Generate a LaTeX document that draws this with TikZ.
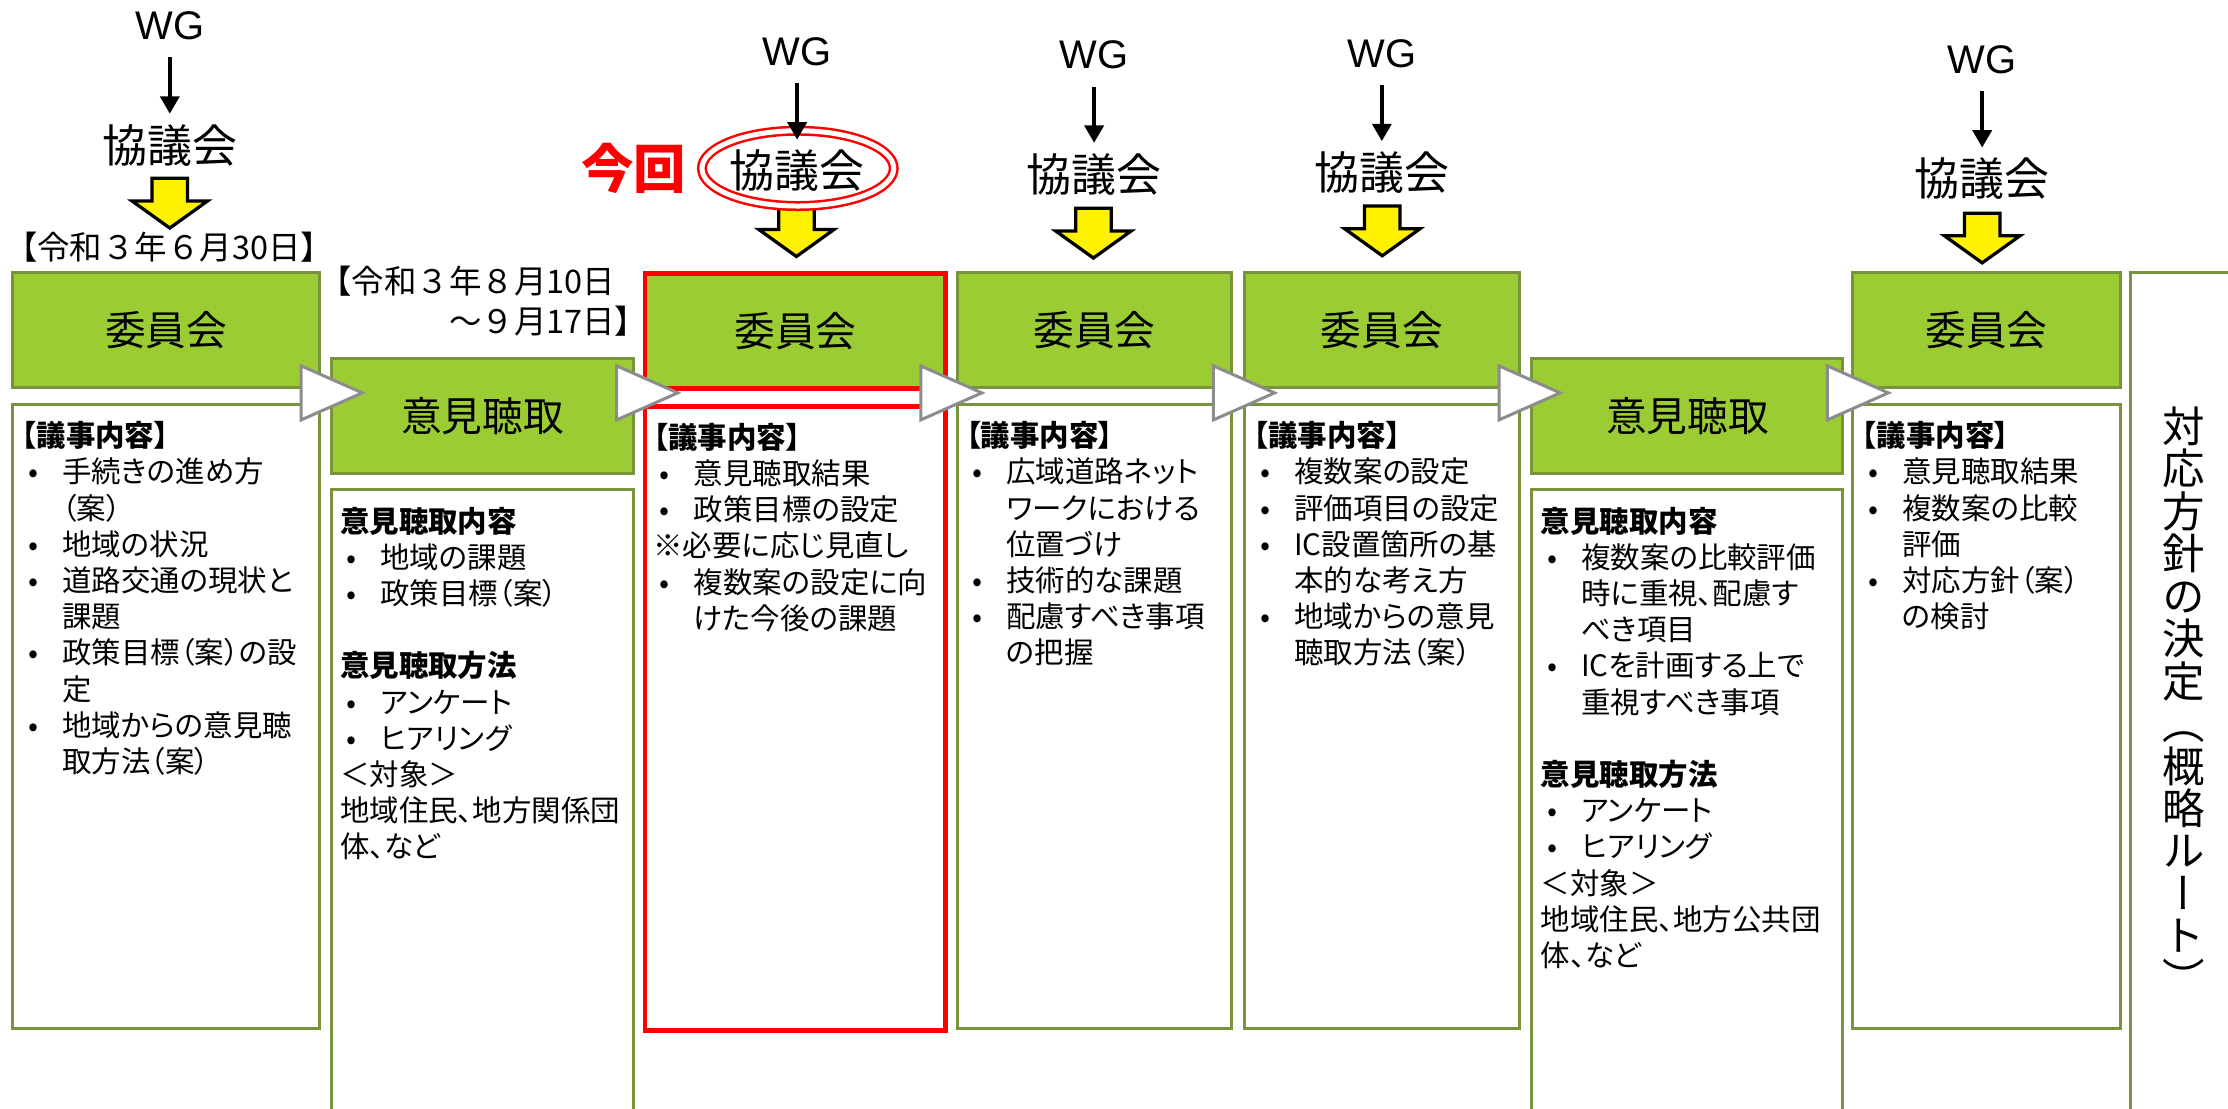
\documentclass[tikz,border=0pt]{standalone}
\usepackage{fontspec}
\setmainfont[RawFeature=+palt]{Noto Sans CJK JP}
\newfontfamily\plainjp{Noto Sans CJK JP}
\newfontfamily\vertjp[RawFeature=+vert]{Noto Sans CJK JP}
\newfontfamily\wgfont{Liberation Sans}
\usetikzlibrary{shapes.geometric, arrows.meta, positioning}
\definecolor{grnfill}{RGB}{155,204,52}
\definecolor{grnline}{RGB}{119,147,60}
\definecolor{trigray}{RGB}{140,140,140}
\newcommand{\itm}[1]{\par\noindent\makebox[16.2pt][l]{\hspace{2.5pt}•}#1}
\newcommand{\cont}[1]{\par\noindent\hspace*{16.2pt}#1}
\newcommand{\hd}[1]{\par\noindent{\bfseries #1}}
\newcommand{\pl}[1]{\par\noindent #1}
\newcommand{\gap}{\par\vspace{14.5pt}}
\tikzstyle{head} = [rectangle, minimum height=1.62cm, inner sep=0pt, draw=grnline, line width=1.2pt, fill=grnfill, font=\fontsize{16.3}{19}\selectfont]
\tikzstyle{headnow} = [head, draw=red, line width=1.8pt]
\tikzstyle{frame} = [rectangle, inner sep=0pt, draw=grnline, line width=1.2pt, fill=white]
\tikzstyle{framenow} = [frame, draw=red, line width=1.8pt]
\tikzstyle{body} = [text width=4.2cm, inner sep=0pt, align=left, font=\fontsize{11.8}{14.5}\selectfont]
\tikzstyle{wg} = [inner sep=0pt, font=\wgfont\fontsize{16}{19}\selectfont]
\tikzstyle{kyo} = [inner sep=0pt, font=\fontsize{18}{21}\selectfont]
\tikzstyle{date} = [inner sep=0pt, align=right, font=\plainjp\fontsize{13}{16.2}\selectfont]
\tikzstyle{ring} = [ellipse, draw=red, line width=1pt, double=white, double distance=2pt, minimum width=2.7cm, minimum height=1.06cm, inner sep=0pt]
\tikzstyle{nowlabel} = [inner sep=0pt, text=red, font=\bfseries\fontsize{21}{25}\selectfont]
\tikzstyle{vtext} = [inner sep=0pt, align=center, font={\vertjp\fontsize{17}{17}\selectfont}]
\tikzstyle{arrow} = [line width=1.8pt, -{Triangle[length=7pt,width=7.5pt]}, shorten <=6.8pt, shorten >=4pt]
\tikzset{
  yarrow/.pic={\filldraw[fill=yellow, draw=black, line width=1.3pt] (-12.5,0) -- (12.5,0) -- (12.5,16) -- (26.5,16) -- (0,35) -- (-26.5,16) -- (-12.5,16) -- cycle;},
  chevron/.pic={\filldraw[fill=white, draw=trigray, line width=1.2pt] (0,-19) -- (43,0) -- (0,19) -- cycle;}
}
\begin{document}
\begin{tikzpicture}[x=0.02cm, y=-0.02cm, node distance=1.68cm]
\useasboundingbox (0,0) rectangle (1568,780);
\clip (0,0) rectangle (1568,780);

\node (com1) [head, minimum width=4.32cm, anchor=north west] at (8,191) {委員会};
\node (hear1) [head, minimum width=4.26cm, anchor=north west] at (232,251) {意見聴取};
\node (com2) [headnow, minimum width=4.23cm, anchor=north west] at (452.5,191) {委員会};
\node (com3) [head, minimum width=3.87cm, anchor=north west] at (672.5,191) {委員会};
\node (com4) [head, minimum width=3.86cm, anchor=north west] at (875,191) {委員会};
\node (hear2) [head, minimum width=4.38cm, anchor=north west] at (1077,251) {意見聴取};
\node (com5) [head, minimum width=3.76cm, anchor=north west] at (1303,191) {委員会};
\node (policy) [frame, minimum width=2.04cm, minimum height=12.18cm, anchor=north west] at (1498,191) {};

\node (box1) [frame, minimum width=4.32cm, minimum height=8.78cm, below=0.19cm of com1] {};
\node (box2) [frame, minimum width=4.26cm, minimum height=9.16cm, below=0.19cm of hear1] {};
\node (box3) [framenow, minimum width=4.23cm, minimum height=8.78cm, below=0.19cm of com2] {};
\node (box4) [frame, minimum width=3.87cm, minimum height=8.78cm, below=0.19cm of com3] {};
\node (box5) [frame, minimum width=3.86cm, minimum height=8.78cm, below=0.19cm of com4] {};
\node (box6) [frame, minimum width=4.38cm, minimum height=9.16cm, below=0.19cm of hear2] {};
\node (box7) [frame, minimum width=3.76cm, minimum height=8.78cm, below=0.19cm of com5] {};

\node (txt1) [body, anchor=north west] at ([shift={(7,5)}]box1.north west) {\hd{【議事内容】}
\itm{手続きの進め方}\cont{（案）}
\itm{地域の状況}
\itm{道路交通の現状と}\cont{課題}
\itm{政策目標（案）の設}\cont{定}
\itm{地域からの意見聴}\cont{取方法（案）}};
\node (txt2) [body, anchor=north west] at ([shift={(7,5)}]box2.north west) {\hd{意見聴取内容}
\itm{地域の課題}
\itm{政策目標（案）}
\gap
\hd{意見聴取方法}
\itm{アンケート}
\itm{ヒアリング}
\pl{＜対象＞}
\pl{地域住民、地方関係団}\pl{体、など}};
\node (txt3) [body, anchor=north west] at ([shift={(7,5)}]box3.north west) {\hd{【議事内容】}
\itm{意見聴取結果}
\itm{政策目標の設定}
\pl{※必要に応じ見直し}
\itm{複数案の設定に向}\cont{けた今後の課題}};
\node (txt4) [body, anchor=north west] at ([shift={(7,5)}]box4.north west) {\hd{【議事内容】}
\itm{広域道路ネット}\cont{ワークにおける}\cont{位置づけ}
\itm{技術的な課題}
\itm{配慮すべき事項}\cont{の把握}};
\node (txt5) [body, anchor=north west] at ([shift={(7,5)}]box5.north west) {\hd{【議事内容】}
\itm{複数案の設定}
\itm{評価項目の設定}
\itm{IC設置箇所の基}\cont{本的な考え方}
\itm{地域からの意見}\cont{聴取方法（案）}};
\node (txt6) [body, anchor=north west] at ([shift={(7,5)}]box6.north west) {\hd{意見聴取内容}
\itm{複数案の比較評価}\cont{時に重視、配慮す}\cont{べき項目}
\itm{ICを計画する上で}\cont{重視すべき事項}
\gap
\hd{意見聴取方法}
\itm{アンケート}
\itm{ヒアリング}
\pl{＜対象＞}
\pl{地域住民、地方公共団}\pl{体、など}};
\node (txt7) [body, anchor=north west] at ([shift={(7,5)}]box7.north west) {\hd{【議事内容】}
\itm{意見聴取結果}
\itm{複数案の比較}\cont{評価}
\itm{対応方針（案）}\cont{の検討}};
\node (dec) [vtext, anchor=north] at (1537,286) {対\\応\\方\\針\\の\\決\\定\\（\\概\\略\\ル\\ー\\ト\\）};

\pic at (212,276.5) {chevron};
\pic at (434,276.5) {chevron};
\pic at (648,276.5) {chevron};
\pic at (854,276.5) {chevron};
\pic at (1055,276.5) {chevron};
\pic at (1286,276.5) {chevron};

\node (wg1) [wg] at (119.5,18.2) {WG};
\node (kyo1) [kyo, below of=wg1] {協議会};
\node (wg3) [wg] at (561,36.4) {WG};
\node (kyo3) [kyo, below of=wg3] {協議会};
\node (wg4) [wg] at (770,38.7) {WG};
\node (kyo4) [kyo, below of=wg4] {協議会};
\node (wg5) [wg] at (972.5,37.5) {WG};
\node (kyo5) [kyo, below of=wg5] {協議会};
\node (wg7) [wg] at (1395,42) {WG};
\node (kyo7) [kyo, below of=wg7] {協議会};

\pic at (119.5,125.5) {yarrow};
\pic at (560.5,145.5) {yarrow};
\pic at (769.5,146.6) {yarrow};
\pic at (972.8,145) {yarrow};
\pic at (1395,150) {yarrow};

\node (ring) [ring] at (561.5,118.5) {};
\node (now) [nowlabel, left=0.2cm of ring] {今回};

\draw [arrow] (wg1) -- (kyo1);
\draw [arrow] (wg3) -- (kyo3);
\draw [arrow] (wg4) -- (kyo4);
\draw [arrow] (wg5) -- (kyo5);
\draw [arrow] (wg7) -- (kyo7);

\node (date1) [date] at (119,174) {【令和３年６月30日】};
\node (date2) [date, anchor=east] at (456,212) {【令和３年８月10日　\\～９月17日】};
\end{tikzpicture}
\end{document}
